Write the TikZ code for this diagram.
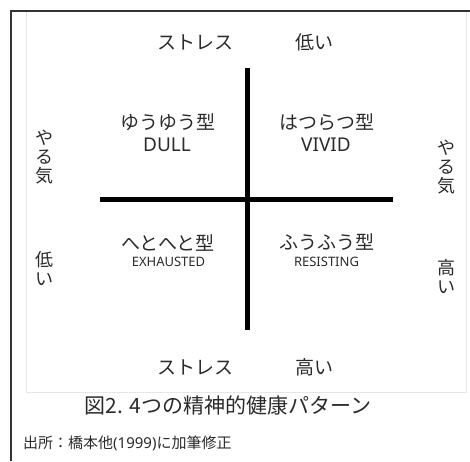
\documentclass[tikz,border=0pt]{standalone}
\usepackage{fontspec}
\setmainfont{Noto Sans CJK JP}
\newfontfamily\latinfont{Noto Sans}
\definecolor{txt}{HTML}{2B2B2B}
\definecolor{frame}{HTML}{333333}
\definecolor{faint}{HTML}{E6E6E6}
\tikzset{
  lbl/.style={text=txt, font=\fontsize{19}{19}\selectfont, inner sep=0pt, anchor=center},
  eng/.style={text=txt, font=\latinfont\fontsize{19}{19}\selectfont, inner sep=0pt, anchor=center},
  engsm/.style={text=txt, font=\latinfont\fontsize{13}{13}\selectfont, inner sep=0pt, anchor=center},
  vert/.style={text=txt, font=\fontsize{18}{19}\selectfont, inner sep=0pt, anchor=center, align=center},
  axis/.style={line width=4.5pt, black},
  caption/.style={text=txt, font=\fontsize{21}{21}\selectfont, inner sep=0pt, anchor=center},
  source/.style={text=txt, font=\fontsize{15}{15}\selectfont, inner sep=0pt, anchor=west},
}
\begin{document}
\begin{tikzpicture}[x=1pt,y=-1pt]
\useasboundingbox (0,0) rectangle (470,461);
% frame
\draw[faint, line width=1pt] (26.5,11) -- (26.5,392.5) -- (466.5,392.5) -- (466.5,11);
\draw[frame, line width=2pt] (11,461) -- (11,11) -- (471,11);
% axes
\coordinate (vtop) at (247.5,68);
\coordinate (vbot) at (247.5,330);
\coordinate (hl) at (100,199.5);
\coordinate (hr) at (393,199.5);
\draw[axis] (vtop) -- (vbot);
\draw[axis] (hl) -- (hr);
% top / bottom labels
\node[lbl] (st1) at (195,42) {ストレス};
\node[lbl] (lo1) at (314,42) {低い};
\node[lbl] (st2) at (195,367) {ストレス};
\node[lbl] (hi1) at (314,367) {高い};
% quadrants
\node[lbl] (q1) at (168,122) {ゆうゆう型};
\node[eng] (q1e) at (167,144.5) {DULL};
\node[lbl] (q2) at (327,122) {はつらつ型};
\node[eng] (q2e) at (326,144.5) {VIVID};
\node[lbl] (q3) at (168,242.5) {へとへと型};
\node[engsm] (q3e) at (168.5,262) {EXHAUSTED};
\node[lbl] (q4) at (327,242.5) {ふうふう型};
\node[engsm] (q4e) at (326.5,262) {RESISTING};
% side labels
\node[vert] (lm) at (44.5,157.5) {や\\る\\気};
\node[vert] (ll) at (44.5,268.5) {低\\い};
\node[vert] (rm) at (446.5,167.5) {や\\る\\気};
\node[vert] (rh) at (446.5,276.5) {高\\い};
% caption
\node[caption] (cap) at (228,406) {図2. 4つの精神的健康パターン};
\node[source] (src) at (23,443) {出所：橋本他{\latinfont(1999)}に加筆修正};
\end{tikzpicture}
\end{document}
